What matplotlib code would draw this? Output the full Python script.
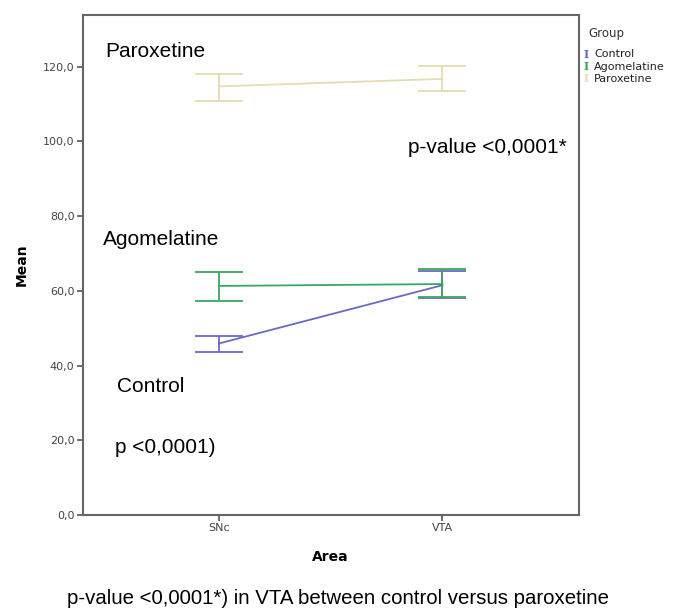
import matplotlib
matplotlib.use("Agg")
import matplotlib.pyplot as plt
import numpy as np

areas = ["SNc", "VTA"]
groups = ["Control", "Agomelatine", "Paroxetine"]
means = {
    "Control": [45.9, 61.5],
    "Agomelatine": [61.3, 61.8],
    "Paroxetine": [114.7, 116.7],
}
upper = {
    "Control": [47.8, 65.2],
    "Agomelatine": [65.0, 65.8],
    "Paroxetine": [118.0, 120.2],
}
lower = {
    "Control": [43.6, 58.0],
    "Agomelatine": [57.2, 58.4],
    "Paroxetine": [110.9, 113.5],
}
colors = {"Control": "#6a6ac4", "Agomelatine": "#3aa860", "Paroxetine": "#e4ddb0"}
yticks = [0, 20, 40, 60, 80, 100, 120]
ytick_labels = ["0,0", "20,0", "40,0", "60,0", "80,0", "100,0", "120,0"]

plt.rcParams['font.family'] = ['Liberation Sans', 'DejaVu Sans']
fig = plt.figure(figsize=(6.73, 6.15), dpi=100)
ax = fig.add_axes([0.1229, 0.1626, 0.7371, 0.813])

x = np.arange(len(areas))
for g in groups:
    m = np.array(means[g]); u = np.array(upper[g]); l = np.array(lower[g])
    ax.plot(x, m, color=colors[g], lw=1.3, zorder=3)
    ax.errorbar(x, m, yerr=[m - l, u - m], fmt='none', ecolor=colors[g],
                elinewidth=1.3, capsize=17, capthick=1.3, zorder=3)

ax.set_xlim(-0.61, 1.61)
ax.set_ylim(0, 133.8)
ax.set_xticks(x)
ax.set_xticklabels(areas, fontsize=8, color='#444444', family='DejaVu Sans')
ax.set_yticks(yticks)
ax.set_yticklabels(ytick_labels, fontsize=8, color='#444444', family='DejaVu Sans')
for s in ax.spines.values():
    s.set_color('#666666')
    s.set_linewidth(1.5)
ax.tick_params(axis='both', length=4, width=1.2, color='#555555', pad=2)
ax.set_xlabel("Area", fontsize=10, fontweight='bold', labelpad=12, family='DejaVu Sans')
ax.set_ylabel("Mean", fontsize=10, fontweight='bold', labelpad=10, family='DejaVu Sans')

fs = 15
ax.text(0.045, 0.928, "Paroxetine", transform=ax.transAxes, fontsize=fs, va='center')
ax.text(0.655, 0.735, "p-value <0,0001*", transform=ax.transAxes, fontsize=fs, va='center')
ax.text(0.041, 0.552, "Agomelatine", transform=ax.transAxes, fontsize=fs, va='center')
ax.text(0.069, 0.258, "Control", transform=ax.transAxes, fontsize=fs, va='center')
ax.text(0.065, 0.136, "p <0,0001)", transform=ax.transAxes, fontsize=fs, va='center')

# legend
fig.text(606/673, 1 - 33/615, "Group", fontsize=8.5, ha='center', va='center', color='#333333',
         family='DejaVu Sans')
for i, g in enumerate(groups):
    yy = 1 - (54 + i * 12.5) / 615
    fig.text(586/673, yy, "I", fontsize=8, color=colors[g], ha='center', va='center',
             family='DejaVu Serif', fontweight='bold')
    fig.text(594/673, yy, g, fontsize=8, ha='left', va='center', color='#222222',
             family='DejaVu Sans')

fig.text(338/673, 1 - 598/615, "p-value <0,0001*) in VTA between control versus paroxetine",
         fontsize=14.7, ha='center', va='center')

fig.savefig("out.png", dpi=100)
